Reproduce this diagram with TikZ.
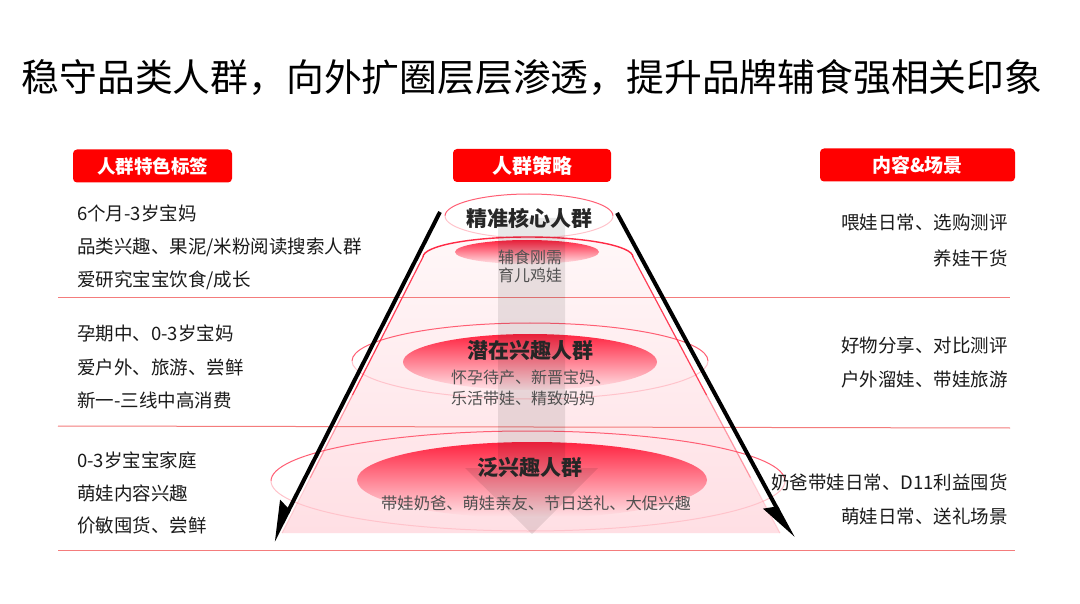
\documentclass[tikz,border=0pt]{standalone}
\usepackage{fontspec}
\setmainfont{Noto Sans CJK SC}
\usetikzlibrary{arrows.meta}
\definecolor{hdrred}{HTML}{FF0000}
\definecolor{sepc}{HTML}{F47C7C}
\definecolor{trapT}{HTML}{FFF7F8}
\definecolor{trapB}{HTML}{FFDFE4}
\definecolor{ellT}{HTML}{FF2340}
\definecolor{ellB}{HTML}{FFE4E8}
\definecolor{rimc}{HTML}{FF2A45}
\definecolor{txt}{HTML}{1A1A1A}
\definecolor{grptxt}{HTML}{262626}
\definecolor{subtxt}{HTML}{505050}
\tikzset{
  hdr/.style={fill=hdrred, rounded corners=4pt, text=white, inner sep=0pt, minimum height=33pt},
  lefttxt/.style={anchor=west, inner sep=0pt, text=txt, font=\fontsize{18.5}{22}\selectfont},
  righttxt/.style={anchor=east, inner sep=0pt, text=txt, font=\fontsize{18.5}{22}\selectfont},
  grp/.style={inner sep=0pt, text=grptxt, font=\bfseries\fontsize{21}{25}\selectfont},
  subt/.style={inner sep=0pt, text=subtxt, font=\fontsize{16}{19}\selectfont},
  sepline/.style={draw=sepc, line width=1pt},
  ringtop/.style={draw=rimc!75, line width=1pt},
  ringbot/.style={draw=rimc!28, line width=1pt},
  blackarrow/.style={line width=4pt, -{Stealth[harpoon, swap, length=34pt, width=24pt, inset=4pt]}}
}
\begin{document}
\begin{tikzpicture}[x=1pt,y=-1pt]
\useasboundingbox (0,0) rectangle (1080,604);
\fill[white] (0,0) rectangle (1080,604);

% title
\node[inner sep=0pt, text=black, font=\fontsize{37.8}{45}\selectfont] (title) at (532,78) {稳守品类人群，向外扩圈层层渗透，提升品牌辅食强相关印象};

% headers
\node[hdr, minimum width=159pt, font=\bfseries\fontsize{18.5}{22}\selectfont] (h1) at (152.5,166) {人群特色标签};
\node[hdr, minimum width=158pt, font=\bfseries\fontsize{20}{24}\selectfont] (h2) at (532,165.5) {人群策略};
\node[hdr, minimum width=195pt, font=\bfseries\fontsize{19}{23}\selectfont] (h3) at (917.5,165) {内容\&场景};

% pyramid body
\shade[top color=trapT, bottom color=trapB] (282,533) -- (423,257) arc[start angle=180, end angle=0, x radius=105pt, y radius=20pt] -- (780,533) -- cycle;

% separators
\draw[sepline] (58,298) -- (1010,298);
\draw[sepline] (58,426) -- (1010,428);
\draw[sepline] (58,550) -- (1015,550);

% outline rings (upper halves strong, lower halves faint)
\draw[ringtop] (445,216) arc[start angle=180, end angle=0, x radius=84pt, y radius=22pt];
\draw[ringbot] (445,216) arc[start angle=180, end angle=360, x radius=84pt, y radius=22pt];
\draw[ringtop] (352,361) arc[start angle=180, end angle=0, x radius=178pt, y radius=38pt];
\draw[ringbot] (352,361) arc[start angle=180, end angle=360, x radius=178pt, y radius=38pt];
\draw[ringtop] (271,481) arc[start angle=180, end angle=0, x radius=257pt, y radius=50pt];
\draw[ringbot] (271,481) arc[start angle=180, end angle=360, x radius=257pt, y radius=50pt];

% filled discs
\shade[top color=ellT, bottom color=ellB] (527,252) ellipse[x radius=72pt, y radius=12pt];
\shade[top color=ellT, bottom color=ellB] (530,362) ellipse[x radius=127pt, y radius=28pt];
\shade[top color=ellT, bottom color=ellB] (532,480) ellipse[x radius=175pt, y radius=38pt];

% rim of the pyramid body
\draw[draw=rimc, line width=1.4pt] (423,257) arc[start angle=180, end angle=0, x radius=105pt, y radius=20pt];
\draw[draw=rimc, line width=1.2pt, opacity=0.9] (423,257) -- (352.5,395);
\draw[draw=rimc, line width=1.2pt, opacity=0.45] (352.5,395) -- (310.2,477.8);
\draw[draw=rimc, line width=1.2pt, opacity=0.15] (310.2,477.8) -- (282,533);
\draw[draw=rimc, line width=1.2pt, opacity=0.9] (633,257) -- (706.5,395);
\draw[draw=rimc, line width=1.2pt, opacity=0.45] (706.5,395) -- (750.6,477.8);
\draw[draw=rimc, line width=1.2pt, opacity=0.15] (750.6,477.8) -- (780,533);

% central translucent arrow
\fill[black, opacity=0.09] (498,218) -- (565,218) -- (565,468) -- (598,468) -- (532,534) -- (465,468) -- (498,468) -- cycle;

% pyramid texts
\node[grp] (g1) at (529,218) {精准核心人群};
\node[subt] (s1a) at (530,257) {辅食刚需};
\node[subt] (s1b) at (530,275) {育儿鸡娃};
\node[grp] (g2) at (530,350) {潜在兴趣人群};
\node[subt, anchor=west] (s2a) at (451,377) {怀孕待产、新晋宝妈、};
\node[subt, anchor=west] (s2b) at (451,398) {乐活带娃、精致妈妈};
\node[grp] (g3) at (530,467) {泛兴趣人群};
\node[subt, font=\fontsize{16.3}{19}\selectfont] (s3) at (536,503) {带娃奶爸、萌娃亲友、节日送礼、大促兴趣};

% black arrows
\coordinate (la0) at (440,212);
\coordinate (la1) at (273,541);
\coordinate (ra0) at (617,213);
\coordinate (ra1) at (793,538);
\draw[blackarrow] (la0) -- (la1);
\draw[blackarrow] (ra0) -- (ra1);

% left column
\node[lefttxt] (l1) at (77,213) {6个月-3岁宝妈};
\node[lefttxt] (l2) at (77,247) {品类兴趣、果泥/米粉阅读搜索人群};
\node[lefttxt] (l3) at (77,280) {爱研究宝宝饮食/成长};
\node[lefttxt] (l4) at (77,333) {孕期中、0-3岁宝妈};
\node[lefttxt] (l5) at (77,367) {爱户外、旅游、尝鲜};
\node[lefttxt] (l6) at (77,400) {新一-三线中高消费};
\node[lefttxt] (l7) at (77,460) {0-3岁宝宝家庭};
\node[lefttxt] (l8) at (77,493) {萌娃内容兴趣};
\node[lefttxt] (l9) at (77,525) {价敏囤货、尝鲜};

% right column
\node[righttxt] (r1) at (1008,223) {喂娃日常、选购测评};
\node[righttxt] (r2) at (1008,258) {养娃干货};
\node[righttxt] (r3) at (1008,345) {好物分享、对比测评};
\node[righttxt] (r4) at (1008,379) {户外溜娃、带娃旅游};
\node[righttxt] (r5) at (1008,482) {奶爸带娃日常、D11利益囤货};
\node[righttxt] (r6) at (1008,516) {萌娃日常、送礼场景};
\end{tikzpicture}
\end{document}
